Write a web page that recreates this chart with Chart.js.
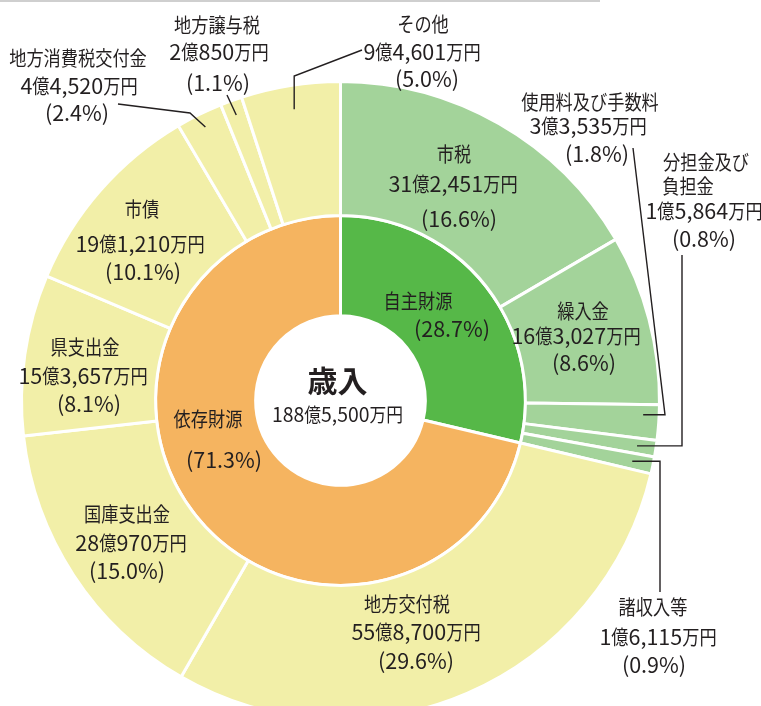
<!DOCTYPE html>
<html lang="ja">
<head>
<meta charset="UTF-8">
<title>歳入</title>
<style>
  html, body { margin: 0; padding: 0; background: #fff; overflow: hidden; }
  .page { position: relative; width: 761px; height: 706px; overflow: hidden; }
  .rule { position: absolute; left: 0; top: 0; width: 600px; height: 2px; background: #cfcfcf; }
  .chart-box { position: absolute; left: 0; top: 0; width: 761px; height: 800px; }
</style>
</head>
<body>
<div class="page">
  <div class="chart-box"><canvas id="revenueChart" width="761" height="800"></canvas></div>
  <div class="rule"></div>
</div>

<script src="https://cdn.jsdelivr.net/npm/chart.js@4.4.1/dist/chart.umd.min.js"></script>
<script>
// 歳入の内訳（単位：万円）
const outerNames = ['市税', '繰入金', '使用料及び手数料', '分担金及び負担金', '諸収入等',
    '地方交付税', '国庫支出金', '県支出金', '市債', '地方消費税交付金', '地方譲与税', 'その他'];
const outerValues = [312451, 163027, 33535, 15864, 16115, 558700, 280970, 153657, 191210, 44520, 20850, 94601];
const outerPct = [16.6, 8.6, 1.8, 0.8, 0.9, 29.6, 15.0, 8.1, 10.1, 2.4, 1.1, 5.0];
const outerGroup = [0, 0, 0, 0, 0, 1, 1, 1, 1, 1, 1, 1];

const innerNames = ['自主財源', '依存財源'];
const innerValues = [540992, 1344508];
const innerPct = [28.7, 71.3];

const centerTitle = '歳入';
const totalValue = 1885500;

// styles
const ink = '#231f20';
const outerColors = ['#a3d39a', '#f2efa8'];
const innerColors = ['#56b848', '#f5b460'];
const jp = '"Noto Sans CJK JP", "Noto Sans CJK SC", sans-serif';
// CJK glyphs are drawn a little squeezed, like the condensed gothic of the original
const labelFont = { cjk: '20px ' + jp, cjkScale: 0.86, latin: '21.5px ' + jp, latinScale: 1, drop: 8 };
const centerFont = { cjk: '19.5px ' + jp, cjkScale: 0.86, latin: '20px ' + jp, latinScale: 0.97, drop: 7.5 };
const titleFont = { cjk: 'bold 30px ' + jp, cjkScale: 1, latin: 'bold 30px ' + jp, latinScale: 1, drop: 11.5 };

// where each label's lines sit (title, amount, percent)
const outerLabelPos = [
    { at: [[454, 154], [453, 184], [459, 219]] },
    { at: [[583, 311], [576, 336], [584, 363]] },
    { at: [[590, 102], [588, 126], [597, 154]] },
    { at: [[706, 162], [688, 186], [704, 211], [704, 239]], titleLines: ['分担金及び', '負担金'] },
    { at: [[653, 607], [658, 637], [654, 665]] },
    { at: [[407, 604], [416, 632], [416, 661]] },
    { at: [[127, 514], [131, 543], [127, 571]] },
    { at: [[85, 347], [83, 376], [89, 404]] },
    { at: [[142, 209], [140, 244], [143, 272]] },
    { at: [[78, 58], [79, 86], [77, 113]] },
    { at: [[217, 25], [219, 52], [218, 83]] },
    { at: [[423, 24], [422, 52], [427, 79]] }
];
const innerLabelPos = [
    [[418, 301], [452, 329]],
    [[208, 419], [224, 460]]
];

// leader lines: fixed bends, ending on the slice (null = take the end point's coordinate)
const leaders = {
    2: { path: [[633, 148], [665, null]], r: 303, t: 0.3 },
    3: { path: [[682, 255], [682, null]], r: 300, t: 0.5 },
    4: { path: [[660, 592], [660, null]], r: 298, t: 0.5 },
    9: { path: [[118, 104], [190, 113]], r: 305, t: 0.5 },
    10: { path: [[227, 95]], r: 304, t: 0.5 },
    11: { path: [[362, 50], [null, 76]], r: 295, t: 0.5 }
};

function yen(v) {
    const oku = Math.floor(v / 10000);
    const man = v % 10000;
    return oku + '億' + (man ? man.toLocaleString('en-US') + '万' : '') + '円';
}
function pctText(p) {
    return '(' + p.toFixed(1) + '%)';
}

// draw text with CJK and latin parts in different sizes, centred on cx
function drawMixed(ctx, text, cx, cy, f) {
    const runs = text.match(/[\u3000-\u9fff]+|[^\u3000-\u9fff]+/g);
    let w = 0;
    const parts = runs.map(r => {
        const cjk = /[\u3000-\u9fff]/.test(r);
        const font = cjk ? f.cjk : f.latin;
        const sx = cjk ? f.cjkScale : f.latinScale;
        ctx.font = font;
        const m = ctx.measureText(r).width * sx;
        w += m;
        return { r, font, sx, m };
    });
    let x = cx - w / 2;
    ctx.textAlign = 'left';
    ctx.textBaseline = 'alphabetic';
    parts.forEach(p => {
        ctx.save();
        ctx.font = p.font;
        ctx.translate(x, cy + f.drop);
        ctx.scale(p.sx, 1);
        ctx.fillText(p.r, 0, 0);
        ctx.restore();
        x += p.m;
    });
}

const labelPlugin = {
    id: 'sliceLabels',
    afterDatasetsDraw(chart) {
        const ctx = chart.ctx;
        ctx.save();
        ctx.fillStyle = ink;
        ctx.strokeStyle = ink;
        ctx.lineWidth = 1.4;

        const outerMeta = chart.getDatasetMeta(0);
        outerNames.forEach((name, i) => {
            const L = outerLabelPos[i];
            const texts = [...(L.titleLines || [name]), yen(outerValues[i]), pctText(outerPct[i])];
            texts.forEach((t, k) => drawMixed(ctx, t, L.at[k][0], L.at[k][1], labelFont));

            const ld = leaders[i];
            if (ld) {
                const p = outerMeta.data[i].getProps(['x', 'y', 'startAngle', 'endAngle'], true);
                const a = p.startAngle + (p.endAngle - p.startAngle) * ld.t;
                const ax = p.x + Math.cos(a) * ld.r;
                const ay = p.y + Math.sin(a) * ld.r;
                ctx.beginPath();
                ld.path.forEach(([x, y], k) => {
                    const px = x === null ? ax : x;
                    const py = y === null ? ay : y;
                    if (k) ctx.lineTo(px, py); else ctx.moveTo(px, py);
                });
                ctx.lineTo(ax, ay);
                ctx.stroke();
            }
        });

        innerNames.forEach((name, i) => {
            const pos = innerLabelPos[i];
            drawMixed(ctx, name, pos[0][0], pos[0][1], labelFont);
            drawMixed(ctx, pctText(innerPct[i]), pos[1][0], pos[1][1], labelFont);
        });

        const c = outerMeta.data[0].getProps(['x', 'y'], true);
        drawMixed(ctx, centerTitle, c.x - 3, c.y - 20, titleFont);
        drawMixed(ctx, yen(totalValue), c.x - 3, c.y + 14, centerFont);
        ctx.restore();
    }
};

new Chart(document.getElementById('revenueChart'), {
    type: 'doughnut',
    data: {
        labels: outerNames,
        datasets: [{
            data: outerValues,
            backgroundColor: outerGroup.map(g => outerColors[g]),
            borderColor: '#fff',
            borderWidth: 3,
            weight: 134
        }, {
            data: innerValues,
            backgroundColor: innerColors,
            borderColor: '#fff',
            borderWidth: 3,
            weight: 100
        }]
    },
    options: {
        responsive: false,
        animation: false,
        cutout: '26.6%',
        layout: { padding: { left: 20, top: 80, right: 100, bottom: 79 } },
        plugins: {
            legend: { display: false },
            tooltip: { enabled: false }
        }
    },
    plugins: [labelPlugin]
});
</script>
</body>
</html>
